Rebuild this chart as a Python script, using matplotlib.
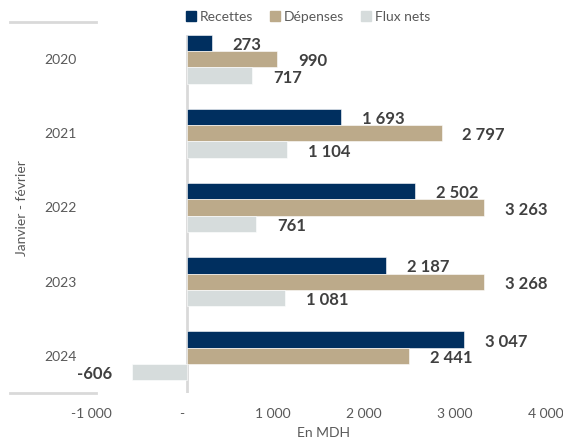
import numpy as np
import matplotlib
matplotlib.use("Agg")
import matplotlib.pyplot as plt
from matplotlib.lines import Line2D
from matplotlib.patches import Patch
from matplotlib.transforms import ScaledTranslation

years = ["2020", "2021", "2022", "2023", "2024"]
recettes = [273, 1693, 2502, 2187, 3047]
depenses = [990, 2797, 3263, 3268, 2441]
flux_nets = [717, 1104, 761, 1081, -606]

series = [("Recettes", recettes, "#002F5F"),
          ("Dépenses", depenses, "#BCAA8A"),
          ("Flux nets", flux_nets, "#D6DCDC")]

plt.rcParams["font.family"] = ["Lato", "DejaVu Sans"]
grey = "#595959"

fig = plt.figure(figsize=(5.63, 4.41), dpi=100)
ax = fig.add_axes([96 / 563, 1 - 393 / 441, (551 - 96) / 563, 371 / 441])

y = np.arange(len(years))
h = 0.22
for i, (name, vals, col) in enumerate(series):
    pos = y + (i - 1) * h
    bars = ax.barh(pos, vals, height=h, color=col, edgecolor="white", linewidth=0.4, label=name)
    for b, v in zip(bars, vals):
        txt = f"{abs(v):,}".replace(",", " ")
        if v < 0:
            txt = "-" + txt
            ax.annotate(txt, (v, b.get_y() + h / 2), xytext=(-14, -1.5), textcoords="offset points",
                        ha="right", va="center", fontsize=12, fontweight="bold", color="#404040")
        else:
            ax.annotate(txt, (v, b.get_y() + h / 2), xytext=(15, -1.5), textcoords="offset points",
                        ha="left", va="center", fontsize=12, fontweight="bold", color="#404040")

ax.set_xlim(-1000, 4000)
ax.set_ylim(len(years) - 0.5, -0.5)
ax.set_yticks(y)
ax.set_yticklabels(years)
ax.set_xticks([-1000, 0, 1000, 2000, 3000, 4000])
ax.set_xticklabels(["-1 000", "-", "1 000", "2 000", "3 000", "4 000"])
ax.tick_params(axis="both", length=0, labelsize=10, labelcolor=grey)
ax.tick_params(axis="y", pad=14)
ax.tick_params(axis="x", pad=11)
for lbl in ax.get_xticklabels():
    lbl.set_transform(lbl.get_transform() + ScaledTranslation(-5 / 100, 0, fig.dpi_scale_trans))
for s in ax.spines.values():
    s.set_visible(False)

ax.axvline(0, ymin=0, ymax=(393 - 36) / 371, color="#D9D9D9", linewidth=2, zorder=0)

ax.set_xlabel("En MDH", fontsize=10, color=grey, labelpad=5)
fig.text(22 / 563, 1 - 208 / 441, "Janvier - février", rotation=90, ha="center", va="center",
         fontsize=10, color=grey)

for yy in (22, 393):
    fig.add_artist(Line2D([10 / 563, 96 / 563], [1 - yy / 441, 1 - yy / 441],
                          transform=fig.transFigure, color="#D9D9D9", linewidth=2))

handles = [Patch(color=c) for _, _, c in series]
fig.legend(handles, [n for n, _, _ in series], loc="center", bbox_to_anchor=(308 / 563, 1 - 17 / 441),
           ncol=3, frameon=False, fontsize=10, labelcolor=grey, handlelength=0.7, handleheight=0.7,
           handletextpad=0.3, columnspacing=1.2)

fig.savefig("out.png", dpi=100)
